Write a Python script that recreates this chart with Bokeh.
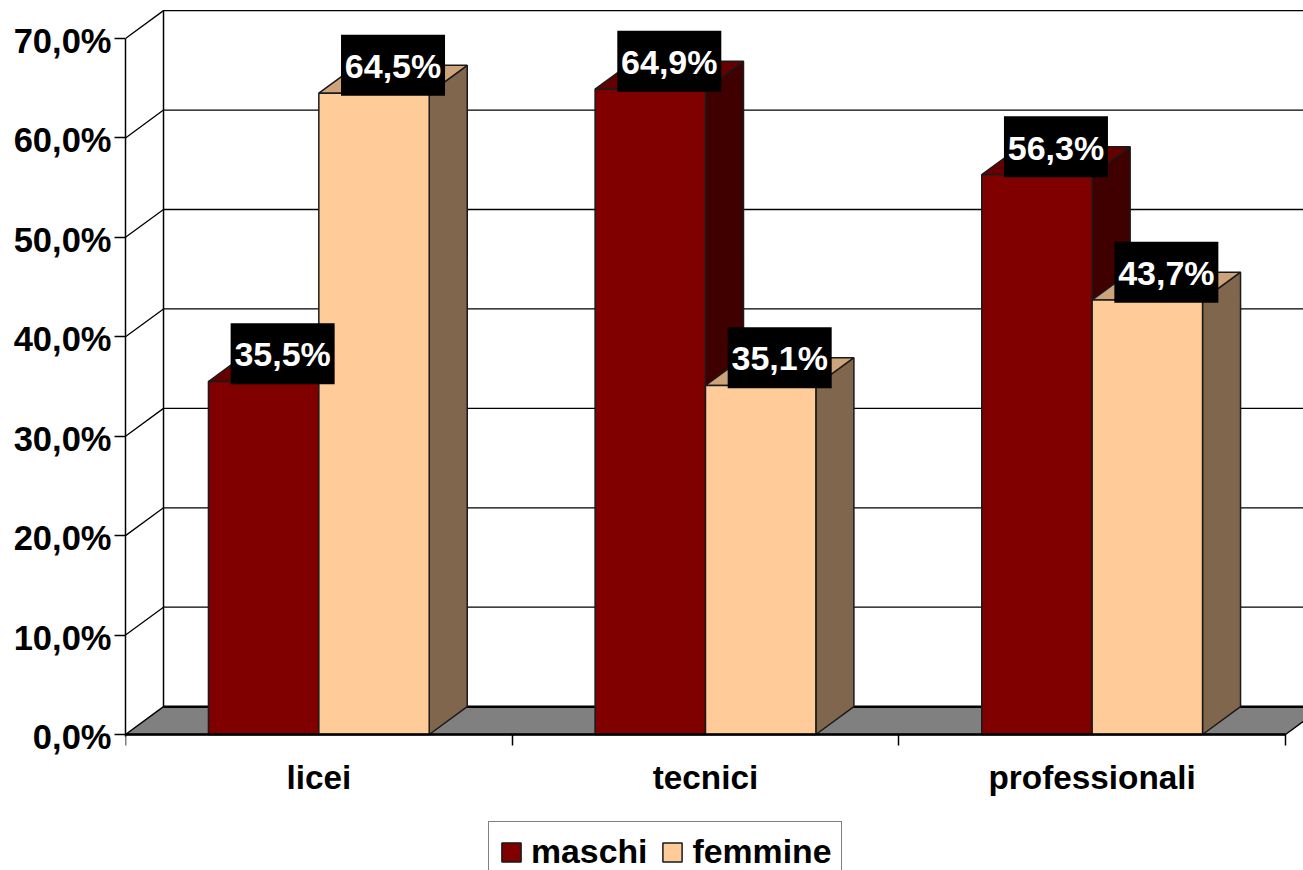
from bokeh.plotting import figure
from bokeh.embed import file_html
from bokeh.resources import INLINE
from bokeh.core.properties import value
from bokeh.models import Range1d, LinearAxis, FixedTicker, Legend, LegendItem

categories = ["licei", "tecnici", "professionali"]
maschi = [35.5, 64.9, 56.3]
femmine = [64.5, 35.1, 43.7]
labels_m = ["35,5%", "64,9%", "56,3%"]
labels_f = ["64,5%", "35,1%", "43,7%"]
y_ticks = [0, 10, 20, 30, 40, 50, 60, 70]
y_tick_labels = ["0,0%", "10,0%", "20,0%", "30,0%", "40,0%", "50,0%", "60,0%", "70,0%"]

FONT = "Liberation Sans"
DX = 0.0983      # 3-D depth along the category axis
DY = 2.8         # 3-D depth along the value axis
BW = 0.2855      # bar width
X_END = 3.0466
LABEL_DROP = 0.25  # tick labels sit slightly below their ticks

p = figure(width=1303, height=870, output_backend="svg", toolbar_location=None,
           x_range=Range1d(0, X_END), y_range=Range1d(-13.68, 73.82),
           x_axis_type=None, y_axis_type=None,
           min_border_left=125, min_border_right=0, min_border_top=0, min_border_bottom=0,
           outline_line_color=None, background_fill_color="white")
p.grid.visible = False

# walls and gridlines
for v in y_ticks[1:]:
    p.line([0, DX, X_END + 1], [v, v + DY, v + DY], line_color="black", line_width=1.3)
p.line([DX, DX], [DY, 70 + DY], line_color="black", line_width=1.5)

# floor
p.patch([0, DX, 3 + DX, 3], [0, DY, DY, 0], fill_color="#808080", line_color="black", line_width=1.5)
p.line([DX, X_END + 1], [DY, DY], line_color="black", line_width=2.5)


def bars(lefts, vals, front, side, top):
    rights = [l + BW for l in lefts]
    p.patches([[r, r + DX, r + DX, r] for r in rights],
              [[0, DY, v + DY, v] for v in vals],
              fill_color=side, line_color="#1a1a1a", line_width=1.5)
    p.patches([[l, l + DX, r + DX, r] for l, r in zip(lefts, rights)],
              [[v, v + DY, v + DY, v] for v in vals],
              fill_color=top, line_color="#1a1a1a", line_width=1.5)
    return p.vbar(x=[l + BW / 2 for l in lefts], top=vals, bottom=0, width=BW,
                  fill_color=front, line_color="#1a1a1a", line_width=1.5)


centers = [i + 0.5 for i in range(len(categories))]
r_m = bars([c - BW for c in centers], maschi, "#800000", "#400000", "#660000")
r_f = bars(centers, femmine, "#FFCC99", "#80664D", "#CCA37A")


# value labels
def tags(xs, vals, texts):
    lx = [x + DX / 2 for x in xs]
    ly = [v + DY for v in vals]
    p.rect(lx, ly, width=104, height=61, width_units="screen", height_units="screen",
           fill_color="black", line_color=None)
    p.text(lx, [y - 0.08 for y in ly], text=texts, text_color="white", text_align="center",
           text_baseline="middle", text_font=value(FONT), text_font_style="bold",
           text_font_size="34px")


tags([c - BW / 2 for c in centers], maschi, labels_m)
tags([c + BW / 2 for c in centers], femmine, labels_f)

# axes
label_ticks = [v - LABEL_DROP for v in y_ticks]
yaxis = LinearAxis(ticker=FixedTicker(ticks=label_ticks, minor_ticks=y_ticks),
                   bounds=(-LABEL_DROP, 70),
                   major_label_overrides=dict(zip(label_ticks, y_tick_labels)),
                   major_label_text_font=FONT, major_label_text_font_style="bold",
                   major_label_text_font_size="34.5px", major_label_text_color="black",
                   major_tick_in=0, major_tick_out=11, major_tick_line_color=None,
                   minor_tick_in=0, minor_tick_out=11, minor_tick_line_width=1.5,
                   minor_tick_line_color="black", major_label_standoff=3,
                   axis_line_width=1.5, axis_line_color="black")
p.add_layout(yaxis, "left")

xaxis = LinearAxis(ticker=FixedTicker(ticks=centers, minor_ticks=[0, 1, 2, 3]), bounds=(0, 3),
                   fixed_location=0,
                   major_label_overrides=dict(zip(centers, categories)),
                   major_label_text_font=FONT, major_label_text_font_style="bold",
                   major_label_text_font_size="33.3px", major_label_text_color="black",
                   major_tick_line_color=None, major_tick_in=0, major_tick_out=0,
                   minor_tick_in=0, minor_tick_out=11, minor_tick_line_width=1.5,
                   major_label_standoff=14, axis_line_width=2.5, axis_line_color="black")
p.add_layout(xaxis, "below")

legend = Legend(items=[LegendItem(label="maschi", renderers=[r_m]),
                       LegendItem(label="femmine", renderers=[r_f])],
                orientation="horizontal", location=(363, -12), margin=0, padding=10,
                spacing=13, label_standoff=8, glyph_width=24, glyph_height=24,
                label_text_font=FONT, label_text_font_style="bold", label_text_font_size="33.8px",
                label_text_color="black",
                label_height=36, border_line_color="black", border_line_width=1.5,
                background_fill_color="white", background_fill_alpha=1)
p.add_layout(legend, "center")

open("out.html", "w").write(file_html(p, INLINE))
